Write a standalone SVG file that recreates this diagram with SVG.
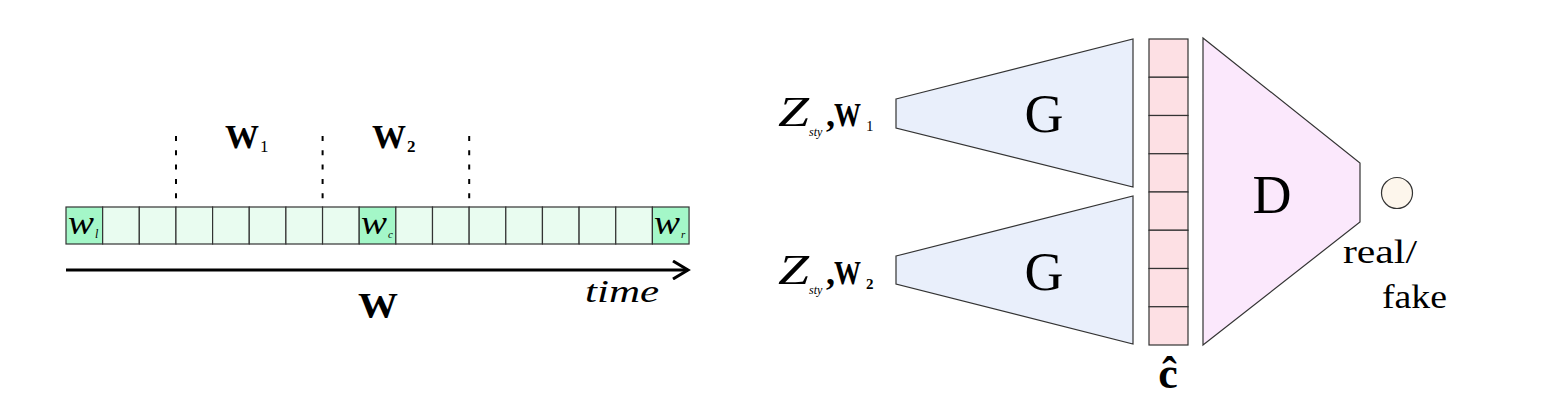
<svg xmlns="http://www.w3.org/2000/svg" width="1542" height="408" viewBox="0 0 1542 408">
<style>
.cell{fill:#e9fcf0;stroke:#333;stroke-width:1.2}
.cellk{fill:#a4f7c8;stroke:#333;stroke-width:1.2}
.pink{fill:#fde0e4;stroke:#333;stroke-width:1.2}
.dot{stroke:#000;stroke-width:2;stroke-dasharray:5 9.3}
.t{font-family:"Liberation Serif","DejaVu Serif",serif;fill:#000}
.b{font-weight:bold}
.i{font-style:italic}
</style>
<defs>
<marker id="arr" viewBox="0 0 20 20" refX="17" refY="10" markerWidth="20" markerHeight="20" markerUnits="userSpaceOnUse" orient="auto">
<path d="M2,1 L17,10 L2,19" fill="none" stroke="#000" stroke-width="3"/>
</marker>
</defs>
<rect width="1542" height="408" fill="#fff"/>
<g id="sequence">
<rect class="cellk" x="66" y="207" width="36.65" height="37"/>
<rect class="cell" x="102.65" y="207" width="36.65" height="37"/>
<rect class="cell" x="139.3" y="207" width="36.65" height="37"/>
<rect class="cell" x="175.95" y="207" width="36.65" height="37"/>
<rect class="cell" x="212.6" y="207" width="36.65" height="37"/>
<rect class="cell" x="249.25" y="207" width="36.65" height="37"/>
<rect class="cell" x="285.9" y="207" width="36.65" height="37"/>
<rect class="cell" x="322.55" y="207" width="36.65" height="37"/>
<rect class="cellk" x="359.2" y="207" width="36.65" height="37"/>
<rect class="cell" x="395.85" y="207" width="36.65" height="37"/>
<rect class="cell" x="432.5" y="207" width="36.65" height="37"/>
<rect class="cell" x="469.15" y="207" width="36.65" height="37"/>
<rect class="cell" x="505.8" y="207" width="36.65" height="37"/>
<rect class="cell" x="542.45" y="207" width="36.65" height="37"/>
<rect class="cell" x="579.1" y="207" width="36.65" height="37"/>
<rect class="cell" x="615.75" y="207" width="36.65" height="37"/>
<rect class="cellk" x="652.4" y="207" width="36.65" height="37"/>
<text class="t i" x="68" y="234" font-size="34" textLength="26" lengthAdjust="spacingAndGlyphs">w</text>
<text class="t i" x="95" y="238" font-size="12">l</text>
<text class="t i" x="361" y="234" font-size="34" textLength="26" lengthAdjust="spacingAndGlyphs">w</text>
<text class="t i" x="388" y="238" font-size="11">c</text>
<text class="t i" x="654" y="234" font-size="34" textLength="26" lengthAdjust="spacingAndGlyphs">w</text>
<text class="t i" x="681" y="238" font-size="11">r</text>
</g>
<g id="windows">
<line class="dot" x1="176" y1="136" x2="176" y2="199"/>
<line class="dot" x1="322.6" y1="136" x2="322.6" y2="199"/>
<line class="dot" x1="469.2" y1="136" x2="469.2" y2="199"/>
<text class="t b" x="225" y="148" font-size="34" textLength="34" lengthAdjust="spacingAndGlyphs">W</text>
<text class="t" x="260" y="152" font-size="17">1</text>
<text class="t b" x="372" y="148" font-size="34" textLength="34" lengthAdjust="spacingAndGlyphs">W</text>
<text class="t b" x="407" y="152" font-size="17">2</text>
</g>
<g id="connectors">
<line x1="66" y1="270" x2="688" y2="270" stroke="#000" stroke-width="3" marker-end="url(#arr)"/>
</g>
<text class="t b" x="358" y="318" font-size="35" textLength="40" lengthAdjust="spacingAndGlyphs">W</text>
<text class="t i" x="585" y="302" font-size="32" textLength="74" lengthAdjust="spacingAndGlyphs">time</text>
<g id="G1">
<polygon points="896,99 1133,39 1133,187 896,128" fill="#e9effb" stroke="#333" stroke-width="1.2"/>
<text class="t" x="1044" y="132" font-size="54" text-anchor="middle">G</text>
</g>
<g id="G2">
<polygon points="896,256 1133,196 1133,344 896,284" fill="#e9effb" stroke="#333" stroke-width="1.2"/>
<text class="t" x="1044" y="290" font-size="54" text-anchor="middle">G</text>
</g>
<g id="label1">
<text class="t i" x="778" y="126" font-size="42" textLength="31" lengthAdjust="spacingAndGlyphs">Z</text>
<text class="t i" x="809" y="136" font-size="12">sty</text>
<text class="t b" x="826" y="126" font-size="36">,</text>
<text class="t b" x="834" y="126" font-size="34" textLength="27" lengthAdjust="spacingAndGlyphs">W</text>
<text class="t" x="866" y="131" font-size="15">1</text>
</g>
<g id="label2">
<text class="t i" x="778" y="284" font-size="42" textLength="31" lengthAdjust="spacingAndGlyphs">Z</text>
<text class="t i" x="809" y="294" font-size="12">sty</text>
<text class="t b" x="826" y="284" font-size="36">,</text>
<text class="t b" x="834" y="284" font-size="34" textLength="27" lengthAdjust="spacingAndGlyphs">W</text>
<text class="t b" x="866" y="289" font-size="15">2</text>
</g>
<g id="c_hat">
<rect class="pink" x="1149" y="39" width="39" height="38.25"/>
<rect class="pink" x="1149" y="77.25" width="39" height="38.25"/>
<rect class="pink" x="1149" y="115.5" width="39" height="38.25"/>
<rect class="pink" x="1149" y="153.75" width="39" height="38.25"/>
<rect class="pink" x="1149" y="192" width="39" height="38.25"/>
<rect class="pink" x="1149" y="230.25" width="39" height="38.25"/>
<rect class="pink" x="1149" y="268.5" width="39" height="38.25"/>
<rect class="pink" x="1149" y="306.75" width="39" height="38.25"/>
<text class="t b" x="1168" y="388" font-size="44" text-anchor="middle">ĉ</text>
</g>
<g id="D">
<polygon points="1203,38 1360,163 1360,222 1203,345" fill="#fbe8fc" stroke="#333" stroke-width="1.2"/>
<text class="t" x="1272" y="213" font-size="54" text-anchor="middle">D</text>
</g>
<g id="output">
<circle cx="1397" cy="193" r="15.5" fill="#fdf6ec" stroke="#333" stroke-width="1.2"/>
<text class="t" x="1343" y="263" font-size="33" textLength="74" lengthAdjust="spacingAndGlyphs">real/</text>
<text class="t" x="1382" y="308" font-size="33" textLength="65" lengthAdjust="spacingAndGlyphs">fake</text>
</g>
</svg>
